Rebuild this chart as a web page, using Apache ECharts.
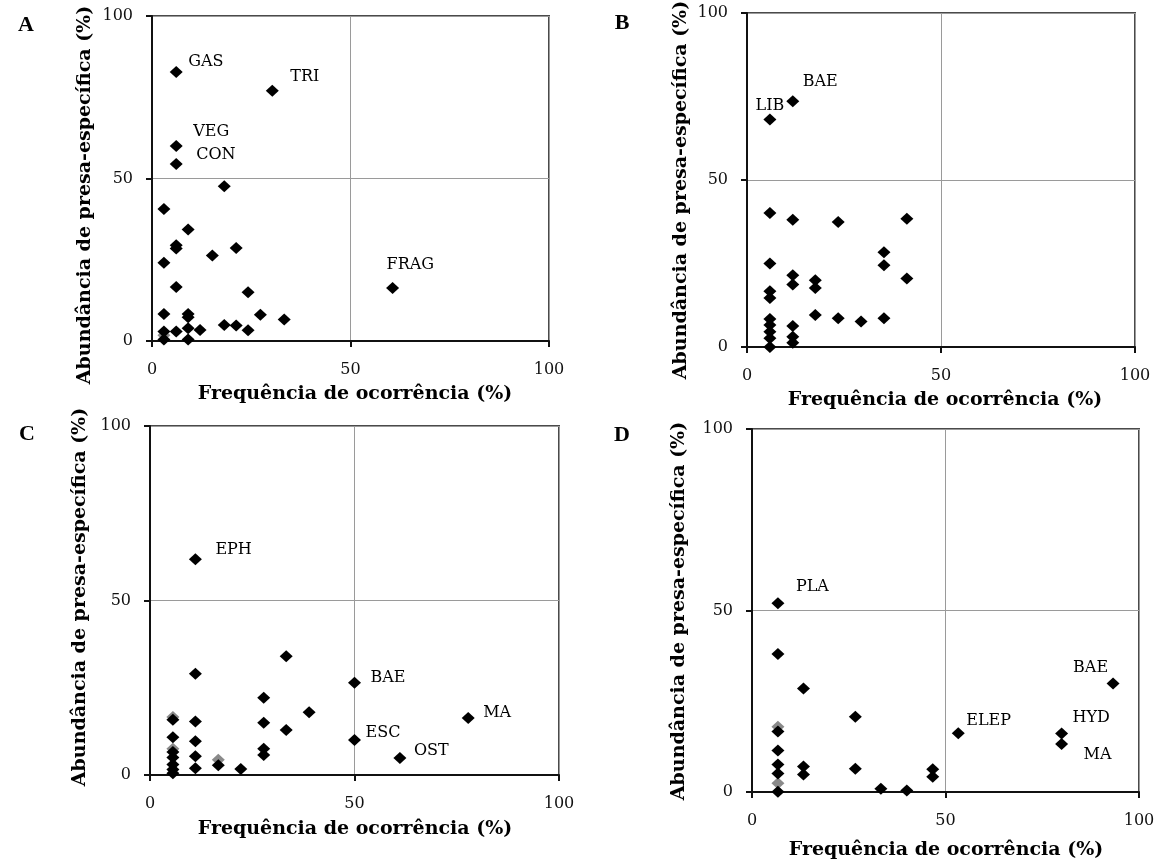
<!DOCTYPE html>
<html>
<head>
<meta charset="utf-8">
<script src="https://cdn.jsdelivr.net/npm/echarts@6/dist/echarts.min.js"></script>
<style>
html,body{margin:0;padding:0;background:#fff;}
#chart{width:1162px;height:861px;}
</style>
</head>
<body>
<div id="chart"></div>
<script>
// ---------- DATA ----------
const panelLetters = ['A', 'B', 'C', 'D'];
const xTitle = 'Frequência de ocorrência (%)';
const yTitle = 'Abundância de presa-específica (%)';
const tickValues = [0, 50, 100];

// Panel A
const freqA  = [6.1, 30.3, 6.1, 6.1, 18.2, 3.0, 9.1, 6.1, 6.1, 21.2, 15.2, 3.0, 6.1, 24.2, 60.6, 3.0, 9.1, 9.1, 27.3, 33.3, 18.2, 21.2, 24.2, 12.1, 9.1, 6.1, 3.0, 3.0, 3.0, 9.1];
const abundA = [82.8, 77.0, 60.0, 54.5, 47.6, 40.6, 34.3, 29.5, 28.5, 28.6, 26.3, 24.1, 16.6, 15.0, 16.3, 8.3, 8.3, 7.3, 8.1, 6.6, 4.9, 4.8, 3.3, 3.4, 3.9, 2.9, 2.9, 1.8, 0.5, 0.5];
const namesA = ['GAS', 'TRI', 'VEG', 'CON', '', '', '', '', '', '', '', '', '', '', 'FRAG', '', '', '', '', '', '', '', '', '', '', '', '', '', '', ''];

// Panel B
const freqB  = [5.9, 11.8, 5.9, 11.8, 23.5, 41.2, 35.3, 35.3, 41.2, 5.9, 11.8, 11.8, 17.6, 17.6, 5.9, 5.9, 17.6, 23.5, 29.4, 35.3, 5.9, 5.9, 5.9, 5.9, 5.9, 11.8, 11.8, 11.8];
const abundB = [68.1, 73.6, 40.1, 38.1, 37.4, 38.4, 28.4, 24.5, 20.5, 25.0, 21.5, 18.7, 20.0, 17.7, 16.7, 14.7, 9.6, 8.6, 7.6, 8.6, 8.4, 6.6, 4.6, 2.6, 0.0, 6.3, 3.1, 1.3];
const namesB = ['LIB', 'BAE', '', '', '', '', '', '', '', '', '', '', '', '', '', '', '', '', '', '', '', '', '', '', '', '', '', ''];

// Panel C
const freqC  = [11.1, 11.1, 33.3, 50.0, 27.8, 38.9, 77.8, 5.6, 5.6, 11.1, 27.8, 33.3, 50.0, 5.6, 11.1, 61.1, 27.8, 27.8, 5.6, 5.6, 5.6, 11.1, 16.7, 16.7, 22.2, 5.6, 5.6, 11.1, 5.6];
const abundC = [61.8, 29.0, 34.0, 26.4, 22.1, 18.0, 16.3, 16.6, 15.8, 15.3, 15.0, 12.9, 10.0, 10.8, 9.7, 4.9, 7.5, 5.7, 7.5, 6.6, 5.0, 5.4, 4.4, 2.8, 1.7, 3.0, 1.6, 1.9, 0.5];
const namesC = ['EPH', '', '', 'BAE', '', '', 'MA', '', '', '', '', '', 'ESC', '', '', 'OST', '', '', '', '', '', '', '', '', '', '', '', '', ''];

// Panel D
const freqD  = [6.7, 6.7, 13.3, 93.3, 26.7, 6.7, 6.7, 53.3, 80.0, 80.0, 6.7, 6.7, 13.3, 13.3, 26.7, 46.7, 46.7, 6.7, 6.7, 6.7, 33.3, 40.0];
const abundD = [52.0, 38.0, 28.5, 29.9, 20.7, 18.0, 16.7, 16.2, 16.1, 13.2, 11.4, 7.6, 7.0, 4.8, 6.4, 6.3, 4.2, 5.1, 2.4, 0.1, 0.9, 0.4];
const namesD = ['PLA', '', '', 'BAE', '', '', '', 'ELEP', 'HYD', 'MA', '', '', '', '', '', '', '', '', '', '', '', ''];

// ---------- STYLE / LAYOUT ----------
const grids = [
  {left: 152, top: 16,  width: 397, height: 325},
  {left: 747, top: 13,  width: 388, height: 334},
  {left: 150, top: 426, width: 409, height: 349},
  {left: 752, top: 429, width: 387, height: 363}
];
// label offsets from marker centre: [dx, dy, align]
const labelPos = [
  {GAS: [12, -10, 'left'], TRI: [18, -14, 'left'], VEG: [17, -14, 'left'], CON: [20, -9, 'left'], FRAG: [-6, -23, 'left']},
  {LIB: [0, -14, 'center'], BAE: [10, -19, 'left']},
  {EPH: [20, -9, 'left'], BAE: [16, -5, 'left'], MA: [15, -5, 'left'], ESC: [11, -7, 'left'], OST: [14, -7, 'left']},
  {PLA: [18, -16, 'left'], BAE: [-5, -16, 'right'], ELEP: [8, -12, 'left'], HYD: [11, -16, 'left'], MA: [22, 11, 'left']}
];
// faint (overlapped) markers, by index
const faint = [[27], [], [7, 18, 22], [5, 18]];
const letterPos = [[26, 25], [622, 23], [27, 434], [622, 435]];
const yTitlePos = [[85, 195], [681, 190], [80, 597], [679, 611]];
const xTitlePos = [[355, 394], [945, 400], [355, 829], [946, 850]];

const serif = "'DejaVu Serif', 'Liberation Serif', serif";
const titleFont = "'DejaVu Serif', 'Liberation Serif', serif";

const panels = [
  [freqA, abundA, namesA],
  [freqB, abundB, namesB],
  [freqC, abundC, namesC],
  [freqD, abundD, namesD]
];

function axisCommon(i, isX) {
  return {
    gridIndex: i, type: 'value', min: 0, max: 100, interval: 50,
    axisLine: {show: true, onZero: false, lineStyle: {color: '#111', width: 2}},
    axisTick: {show: true, length: 6, lineStyle: {color: '#111', width: 2}},
    axisLabel: {margin: isX ? 21 : 19, fontFamily: serif, fontSize: 16, color: '#111',
      customValues: tickValues},
    splitLine: {show: true, lineStyle: {color: '#9a9a9a', width: 1}}
  };
}

const option = {
  animation: false,
  backgroundColor: '#fff',
  grid: grids.map(g => Object.assign({show: true, borderColor: '#4a4a4a', borderWidth: 2, backgroundColor: 'transparent'}, g)),
  xAxis: grids.map((g, i) => axisCommon(i, true)),
  yAxis: grids.map((g, i) => axisCommon(i, false)),
  series: panels.map((p, i) => {
    const [fx, fy, nm] = p;
    const data = fx.map((x, k) => {
      const name = nm[k];
      const item = {value: [x, fy[k]], name: name};
      if (faint[i].indexOf(k) >= 0) item.itemStyle = {color: '#8a8a8a', opacity: 1};
      if (name && labelPos[i][name]) {
        const lp = labelPos[i][name];
        item.label = {show: true, position: 'inside', offset: [lp[0], lp[1]], align: lp[2],
          verticalAlign: 'middle', formatter: '{b}', fontFamily: serif, fontSize: 16, color: '#000'};
      }
      return item;
    });
    // draw faint ones first
    data.sort((a, b) => (a.itemStyle ? 0 : 1) - (b.itemStyle ? 0 : 1));
    return {
      type: 'scatter', xAxisIndex: i, yAxisIndex: i,
      symbol: 'diamond', symbolSize: [13, 12],
      itemStyle: {color: '#000', opacity: 1},
      label: {show: false},
      emphasis: {disabled: true},
      data: data
    };
  }),
  graphic: [].concat(
    panelLetters.map((t, i) => ({type: 'text', x: letterPos[i][0], y: letterPos[i][1],
      style: {text: t, font: "bold 22px 'Liberation Serif', serif", fill: '#000', align: 'center', verticalAlign: 'middle'}})),
    yTitlePos.map(p => ({type: 'text', x: p[0], y: p[1], rotation: Math.PI / 2,
      style: {text: yTitle, font: 'bold 19px ' + titleFont, fill: '#000', align: 'center', verticalAlign: 'middle'}})),
    xTitlePos.map(p => ({type: 'text', x: p[0], y: p[1],
      style: {text: xTitle, font: 'bold 19px ' + titleFont, fill: '#000', align: 'center', verticalAlign: 'middle'}}))
  )
};

const chart = echarts.init(document.getElementById('chart'), null, {renderer: 'canvas'});
chart.setOption(option);
</script>
</body>
</html>
